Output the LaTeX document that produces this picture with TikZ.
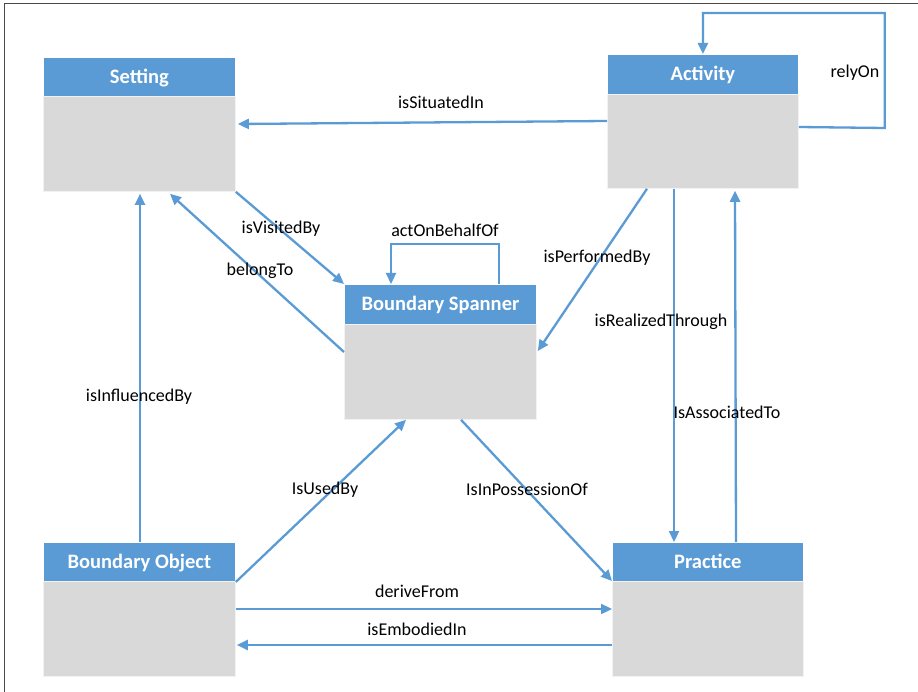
\documentclass[tikz,border=0pt]{standalone}
\usepackage{fontspec}
\setmainfont{Carlito}
\usetikzlibrary{arrows.meta,calc}
\definecolor{hdrblue}{HTML}{5B9BD5}
\definecolor{bodygray}{HTML}{D9D9D9}
\definecolor{linkblue}{HTML}{5B9BD5}
\definecolor{framegray}{HTML}{4A4A4A}
\tikzset{
  hdr/.style={anchor=north west, fill=hdrblue, draw=white, line width=0.8pt,
    minimum width=192pt, minimum height=39pt, inner sep=0pt, text=white,
    font=\bfseries\fontsize{20.5}{22}\selectfont, text height=13pt, text depth=0pt},
  bodybox/.style={anchor=north west, fill=bodygray, draw=white!95!black, line width=0.8pt,
    minimum width=192pt, minimum height=95pt, inner sep=0pt},
  conn/.style={draw=linkblue, line width=2.3pt, -{Triangle[length=11pt,width=10pt]}},
  plainconn/.style={draw=linkblue, line width=2.3pt},
  lbl/.style={font=\fontsize{18}{20}\selectfont, inner sep=0pt, text height=12pt, text depth=1pt}
}
\begin{document}
\begin{tikzpicture}[x=1pt,y=-1pt]
\useasboundingbox (0,0) rectangle (918,692);
\fill[white] (0,0) rectangle (918,692);
\draw[framegray, line width=1.5pt] (4.5,692) -- (4.5,3.5) -- (918,3.5);

% classes: header and body
\node[hdr] (seth) at (43,57) {Setting};
\node[bodybox] (setb) at (43,96) {};
\node[hdr, minimum width=191pt, minimum height=40pt] (acth) at (607,54) {Activity};
\node[bodybox, minimum width=191pt, minimum height=94pt] (actb) at (607,94) {};
\node[hdr, minimum height=40pt] (bsh) at (344,284) {Boundary Spanner};
\node[bodybox] (bsb) at (344,324) {};
\node[hdr] (boh) at (43,542) {Boundary Object};
\node[bodybox] (bob) at (43,581) {};
\node[hdr, minimum width=191pt] (prh) at (612,542) {Practice};
\node[bodybox, minimum width=191pt] (prb) at (612,581) {};

% relations
\draw[conn] ($(actb.north west)+(0,27)$) -- ($(setb.north east)+(2,28)$);
\draw[conn] ($(actb.north east)+(0,33)$) -- ++(86,1) |- ([yshift=41pt]acth.north) -- (acth.north);
\draw[conn] (setb.south east) -- (bsh.north west);
\draw[conn] ($(bsb.north west)+(0,28)$) -- ($(setb.south west)+(127,2)$);
\draw[conn] ($(bsh.north west)+(155,0)$) -- ++(0,-40) -| ($(bsh.north west)+(47,0)$);
\draw[conn] ($(actb.south west)+(40,0)$) -- ($(bsb.north east)+(1,27)$);
\draw[conn] ($(actb.south west)+(67,0)$) -- ($(prh.north west)+(62,0)$);
\draw[conn] ($(prh.north west)+(124,0)$) -- ($(actb.south west)+(128,2)$);
\draw[conn] ($(boh.north west)+(97,0)$) -- ($(setb.south west)+(97,2)$);
\draw[conn] ($(bob.north east)+(0,1)$) -- ($(bsb.south west)+(62,0)$);
\draw[conn] ($(bsb.south west)+(117,0)$) -- (prb.north west);
\draw[conn] ($(bob.north east)+(0,28)$) -- ($(prb.north west)+(0,28)$);
\draw[conn] ($(prb.north west)+(0,64)$) -- ($(bob.north east)+(1,64)$);

% relation names
\node[lbl] (l1) at (441,103) {isSituatedIn};
\node[lbl] (l2) at (855,72) {relyOn};
\node[lbl] (l3) at (281,228) {isVisitedBy};
\node[lbl] (l4) at (260,270) {belongTo};
\node[lbl] (l5) at (445,231) {actOnBehalfOf};
\node[lbl] (l6) at (597,257) {isPerformedBy};
\node[lbl] (l7) at (661,321) {isRealizedThrough};
\node[lbl] (l8) at (727,413) {IsAssociatedTo};
\node[lbl] (l9) at (139,396) {isInfluencedBy};
\node[lbl] (l10) at (325,489) {IsUsedBy};
\node[lbl] (l11) at (527,490) {IsInPossessionOf};
\node[lbl] (l12) at (417,592) {deriveFrom};
\node[lbl] (l13) at (417,630) {isEmbodiedIn};
\end{tikzpicture}
\end{document}
